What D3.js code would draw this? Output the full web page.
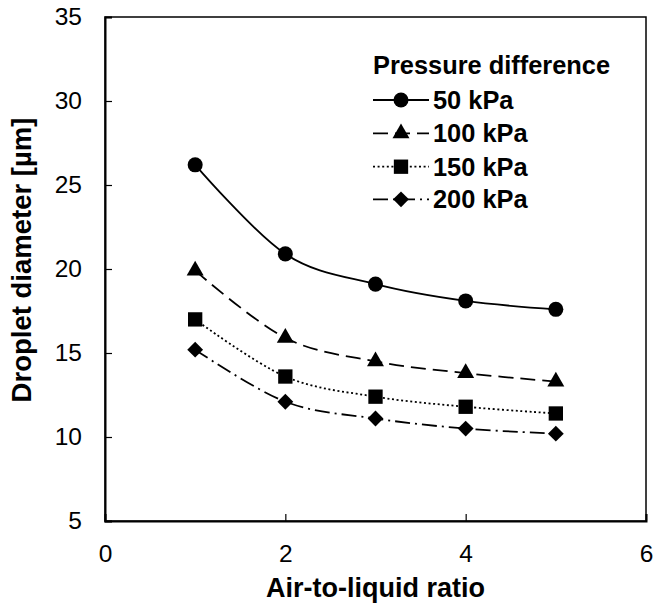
<!DOCTYPE html>
<html>
<head>
<meta charset="utf-8">
<script src="https://cdn.jsdelivr.net/npm/d3@7"></script>
<style>
  body { margin: 0; background: #fff; }
  text { font-family: "Liberation Sans", Arial, sans-serif; fill: #000; }
</style>
</head>
<body>
<div id="plot"></div>
<script>
// data
var ratios = [1, 2, 3, 4, 5];
var seriesNames = ["50 kPa", "100 kPa", "150 kPa", "200 kPa"];
var d50  = [26.2, 20.9, 19.1, 18.1, 17.6];
var d100 = [19.9, 15.9, 14.5, 13.8, 13.3];
var d150 = [17.0, 13.6, 12.4, 11.8, 11.4];
var d200 = [15.2, 12.1, 11.1, 10.5, 10.2];
var xTicks = [0, 2, 4, 6];
var yTicks = [5, 10, 15, 20, 25, 30, 35];

var width = 656, height = 607;
var margin = {left: 105, right: 10, top: 17, bottom: 86};

var svg = d3.select("#plot").append("svg")
  .attr("width", width)
  .attr("height", height);

var x = d3.scaleLinear().domain([0, 6]).range([margin.left, width - margin.right]);
var y = d3.scaleLinear().domain([5, 35]).range([height - margin.bottom, margin.top]);

// frame
svg.append("rect")
  .attr("x", x(0)).attr("y", y(35))
  .attr("width", x(6) - x(0)).attr("height", y(5) - y(35))
  .attr("fill", "none").attr("stroke", "#000").attr("stroke-width", 1.5);

// axes, ticks pointing inwards
var xAxis = svg.append("g")
  .attr("transform", "translate(0," + y(5) + ")")
  .call(d3.axisBottom(x).tickValues(xTicks).tickSize(-7).tickPadding(32).tickFormat(d3.format("d")));
var yAxis = svg.append("g")
  .attr("transform", "translate(" + x(0) + ",0)")
  .call(d3.axisLeft(y).tickValues(yTicks).tickSize(-7).tickPadding(23).tickFormat(d3.format("d")));

[xAxis, yAxis].forEach(function(a) {
  a.select(".domain").attr("stroke-width", 2);
  a.selectAll(".tick line").attr("stroke-width", 1.2);
  a.selectAll(".tick text")
    .attr("font-size", 24.5)
    .attr("fill", "#000")
    .attr("font-family", "Liberation Sans, Arial, sans-serif");
});
xAxis.selectAll(".tick text").attr("dy", "0.35em");

// axis titles
svg.append("text")
  .attr("x", (x(0) + x(6)) / 2)
  .attr("y", 597)
  .attr("text-anchor", "middle")
  .attr("font-size", 27)
  .attr("font-weight", "bold")
  .text("Air-to-liquid ratio");

svg.append("text")
  .attr("transform", "translate(31,260) rotate(-90)")
  .attr("text-anchor", "middle")
  .attr("font-size", 27.5)
  .attr("font-weight", "bold")
  .text("Droplet diameter [µm]");

// series
var allSeries = [d50, d100, d150, d200];
var dashes = [null, "15,7", "2,2.6", "15,5,2,5"];
var symbols = [
  {type: d3.symbolCircle, size: 177, rot: 0},
  {type: d3.symbolTriangle, size: 125, rot: 0},
  {type: d3.symbolSquare, size: 205, rot: 0},
  {type: d3.symbolSquare, size: 125, rot: 45}
];

var line = d3.line()
  .x(function(d) { return x(d[0]); })
  .y(function(d) { return y(d[1]); })
  .curve(d3.curveCatmullRom.alpha(0));

allSeries.forEach(function(vals, i) {
  var pts = ratios.map(function(r, j) { return [r, vals[j]]; });
  svg.append("path")
    .datum(pts)
    .attr("d", line)
    .attr("fill", "none")
    .attr("stroke", "#000")
    .attr("stroke-width", 1.8)
    .attr("stroke-dasharray", dashes[i]);
  svg.selectAll(".m" + i)
    .data(pts)
    .enter().append("path")
    .attr("class", "m" + i)
    .attr("transform", function(d) { return "translate(" + x(d[0]) + "," + y(d[1]) + ") rotate(" + symbols[i].rot + ")"; })
    .attr("d", d3.symbol().type(symbols[i].type).size(symbols[i].size))
    .attr("fill", "#000");
});

// legend
var legend = svg.append("g");
legend.append("text")
  .attr("x", 373).attr("y", 74)
  .attr("font-size", 25.4)
  .attr("font-weight", "bold")
  .text("Pressure difference");

var rowY = [100, 133.3, 166.7, 199.3];
seriesNames.forEach(function(name, i) {
  var g = legend.append("g").attr("transform", "translate(0," + rowY[i] + ")");
  g.append("line")
    .attr("x1", 373).attr("x2", 429)
    .attr("stroke", "#000").attr("stroke-width", 1.8)
    .attr("stroke-dasharray", dashes[i]);
  g.append("path")
    .attr("transform", "translate(401,0) rotate(" + symbols[i].rot + ")")
    .attr("d", d3.symbol().type(symbols[i].type).size(symbols[i].size))
    .attr("fill", "#000");
  g.append("text")
    .attr("x", 433).attr("y", 9)
    .attr("font-size", 25.4)
    .attr("font-weight", "bold")
    .text(name);
});
</script>
</body>
</html>
